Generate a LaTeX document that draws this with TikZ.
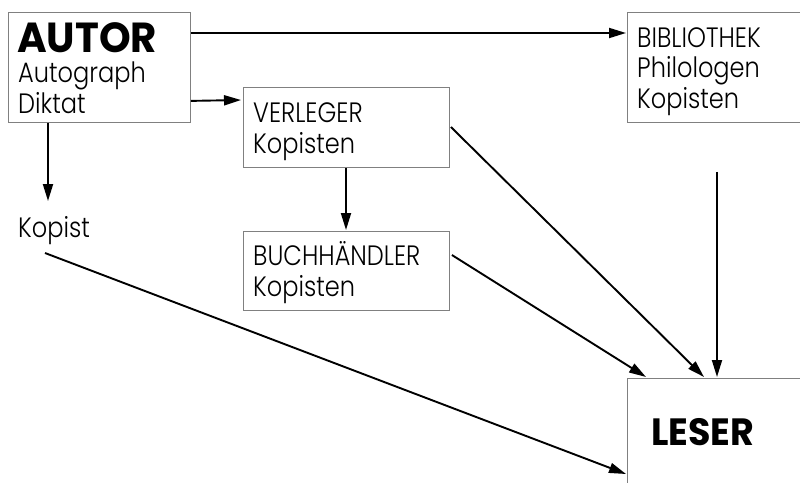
\documentclass[tikz,border=0pt]{standalone}
\usepackage{fontspec}
\setmainfont{Poppins}[UprightFont=* Light, BoldFont=* Bold, FakeStretch=0.86]
\newfontfamily\heavyfont{Poppins}[UprightFont=* Bold, FakeStretch=0.96]
\usetikzlibrary{arrows.meta,calc}
\tikzset{
  box/.style={draw=black!50, line width=0.9pt, anchor=north west, inner sep=0pt},
  txt/.style={anchor=base west, inner sep=0pt, align=left, font=\fontsize{28}{30.5}\selectfont},
  bigtxt/.style={anchor=base west, inner sep=0pt},
  arr/.style={line width=1.9pt, -{Triangle[length=17pt,width=10pt]}},
}
\begin{document}
\begin{tikzpicture}[x=1pt,y=-1pt]
\useasboundingbox (0,0) rectangle (800,482);
\clip (0,0) rectangle (800,482);
% boxes
\node[box, minimum width=182pt, minimum height=110pt] (autor) at (8,12) {};
\node[box, minimum width=206pt, minimum height=80pt] (verl) at (243,87) {};
\node[box, minimum width=206pt, minimum height=79pt] (buch) at (243,231) {};
\node[box, minimum width=180pt, minimum height=110pt] (bib) at (627,12) {};
\node[box, minimum width=200pt, minimum height=130pt] (leser) at (627,378) {};
% texts (base anchor = baseline of the last line)
\node[bigtxt, font=\fontsize{42}{42}\selectfont\heavyfont] (autorT) at (17,52) {AUTOR};
\node[txt] (autorS) at (18,113) {Autograph\\Diktat};
\node[txt] (verlT) at (253,153) {VERLEGER\\Kopisten};
\node[txt] (buchT) at (253,296) {BUCHHÄNDLER\\Kopisten};
\node[txt] (bibT) at (637,108) {BIBLIOTHEK\\Philologen\\Kopisten};
\node[txt] (kopist) at (18,237) {Kopist};
\node[bigtxt, font=\fontsize{38}{38}\selectfont\heavyfont] (leserT) at (651,445) {LESER};
% connector end points
\coordinate (kopistin) at ($(kopist.base west)+(30,-36)$);
\coordinate (kopistout) at ($(kopist.base west)+(27,16)$);
\coordinate (bibout) at ($(bib.south west)+(90,49)$);
% arrows
\draw[arr] ($(autor.north east)+(0,21)$) -- ($(bib.north west)+(-1,21)$);
\draw[arr] ($(autor.south east)+(0,-22)$) -- ($(verl.north west)+(-2,13)$);
\draw[arr] ($(autor.south west)+(40,0)$) -- (kopistin);
\draw[arr] ($(verl.south west)+(103,0)$) -- ($(buch.north west)+(103,-1)$);
\draw[arr] ($(verl.north east)+(1,40)$) -- ($(leser.north west)+(77,-1)$);
\draw[arr] ($(buch.north east)+(2,24)$) -- ($(leser.north west)+(19,-1)$);
\draw[arr] (bibout) -- ($(leser.north west)+(90,-1)$);
\draw[arr] (kopistout) -- ($(leser.north west)+(-1,96)$);
\end{tikzpicture}
\end{document}
